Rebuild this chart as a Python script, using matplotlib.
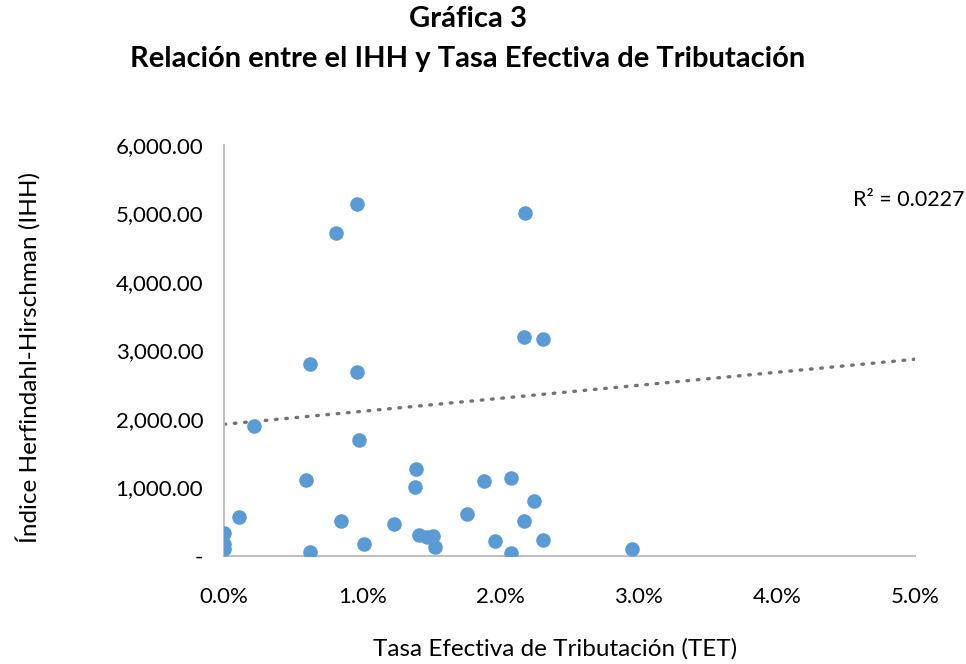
import numpy as np
import matplotlib.pyplot as plt
from matplotlib.ticker import FuncFormatter

plt.rcParams['font.family'] = ['Lato', 'DejaVu Sans']

# Tasa Efectiva de Tributacion (%) and IHH values
tet = [0.96, 0.81, 2.18, 2.17, 2.31, 0.62, 0.96, 0.22, 0.975, 1.39,
       0.59, 1.38, 1.88, 2.08, 2.24, 0.11, 0.85, 1.23, 1.76, 2.17,
       0.0, 0.0, 0.0, 0.62, 1.015, 1.41, 1.47, 1.51, 1.53, 1.96,
       2.08, 2.31, 2.95]
ihh = [5134, 4720, 5003, 3197, 3168, 2798, 2681, 1903, 1693, 1266,
       1114, 1012, 1090, 1143, 808, 574, 516, 467, 618, 511,
       340, 170, 102, 58, 170, 302, 280, 292, 136, 219,
       48, 238, 107]

# linear trend line as shown in the chart (IHH at TET = 0% and 5%)
trend_x = [0.0, 5.0]
trend_y = [1922, 2872]
r2_label = 'R² = 0.0227'

x = np.array(tet)
y = np.array(ihh)

fig = plt.figure(figsize=(9.66, 6.64), dpi=100)
ax = fig.add_axes([0.2319, 0.1627, 0.7153, 0.6189])

ax.scatter(x, y, s=110, color='#5B9BD5', zorder=3, linewidths=0)

ax.plot(trend_x, trend_y, color='#767171', lw=2.4,
        linestyle=(0, (0.5, 2.6)), dash_capstyle='round', zorder=2)

ax.set_xlim(0, 5)
ax.set_ylim(0, 6000)
ax.set_xticks(np.arange(0, 6, 1))
ax.set_yticks(np.arange(0, 7000, 1000))
ax.xaxis.set_major_formatter(FuncFormatter(lambda v, p: f'{v:.1f}%'))
ax.yaxis.set_major_formatter(FuncFormatter(lambda v, p: '-' if v == 0 else f'{v:,.2f}'))
ax.tick_params(length=0, labelsize=16, colors='#000000')
ax.tick_params(axis='y', pad=15)
ax.tick_params(axis='x', pad=22)

for s in ['top', 'right']:
    ax.spines[s].set_visible(False)
for s in ['left', 'bottom']:
    ax.spines[s].set_color('#BFBFBF')
    ax.spines[s].set_linewidth(1.5)

ax.text(0.91, 0.866, r2_label, transform=ax.transAxes, fontsize=15.5, va='center')

fig.text(0.5745, 0.023, 'Tasa Efectiva de Tributación (TET)', ha='center',
         va='center', fontsize=17.5)
fig.text(0.029, 0.461, 'Índice Herfindahl-Hirschman (IHH)', rotation=90,
         va='center', ha='center', fontsize=17.5)

fig.text(0.4845, 0.972, 'Gráfica 3', ha='center', va='center', fontsize=21,
         fontweight='bold')
fig.text(0.4845, 0.911, 'Relación entre el IHH y Tasa Efectiva de Tributación',
         ha='center', va='center', fontsize=21, fontweight='bold')

fig.savefig('out.png', dpi=100)
